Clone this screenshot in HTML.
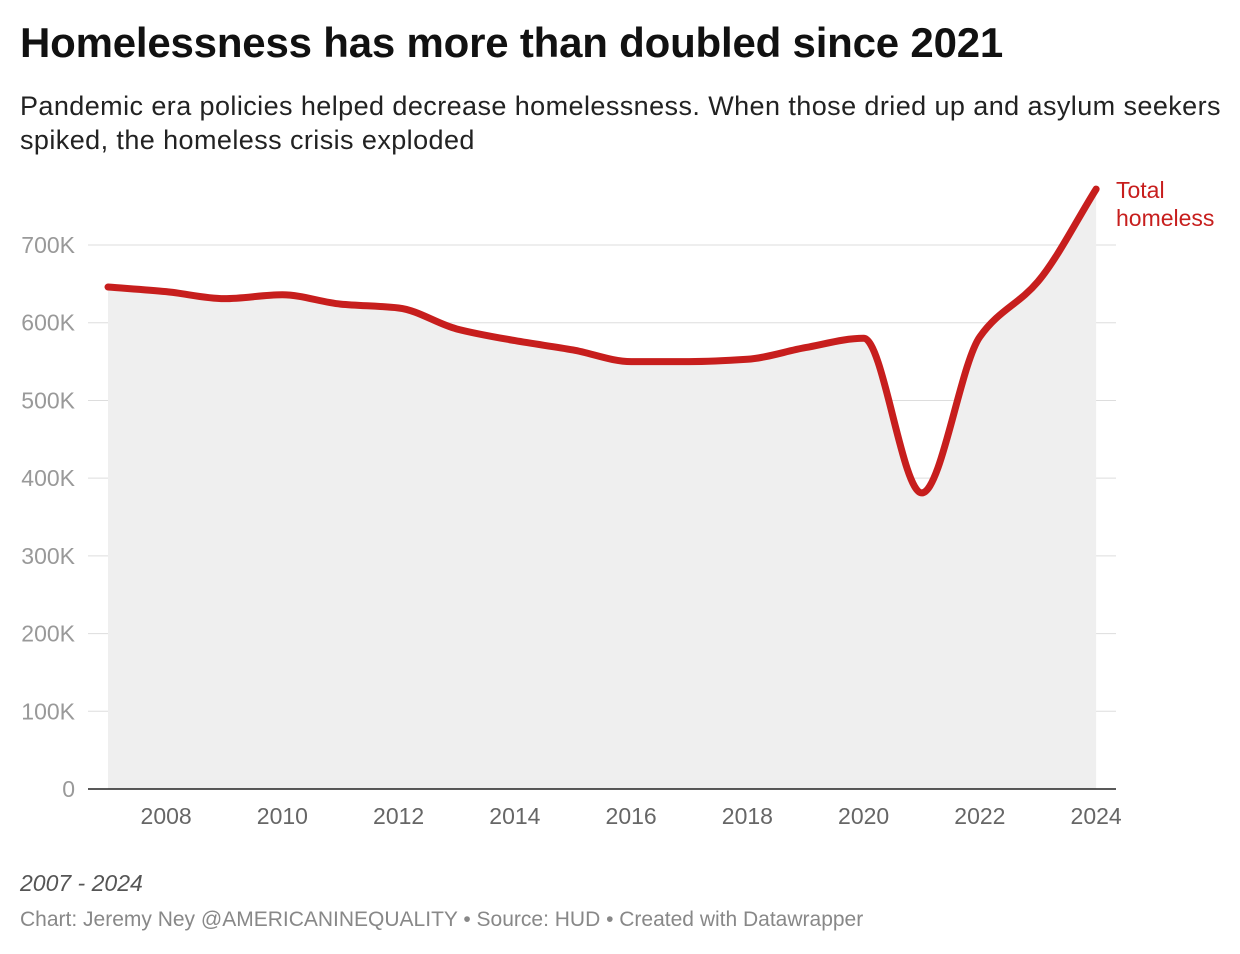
<!DOCTYPE html>
<html><head><meta charset="utf-8"><style>
body{margin:0;background:#fff;font-family:"Liberation Sans",sans-serif;}
#wrap{position:relative;width:1240px;height:954px;overflow:hidden}
.t{position:absolute;left:20px;white-space:nowrap}
</style></head><body>
<div id="wrap">
<div class="t" style="top:19px;font-size:42px;font-weight:bold;color:#111;letter-spacing:-0.2px">Homelessness has more than doubled since 2021</div>
<div class="t" style="top:89px;font-size:27px;line-height:34px;color:#222;white-space:normal;width:1218px;letter-spacing:0.42px">Pandemic era policies helped decrease homelessness. When those dried up and asylum seekers spiked, the homeless crisis exploded</div>
<svg id="chart" width="1240" height="954" style="position:absolute;left:0;top:0"></svg>
<div class="t" style="top:870px;font-size:23px;font-style:italic;color:#555">2007 - 2024</div>
<div class="t" style="top:908px;font-size:21px;color:#888;letter-spacing:0px">Chart: Jeremy Ney @AMERICANINEQUALITY • Source: HUD • Created with Datawrapper</div>
</div>
<script>
const years=[2007,2008,2009,2010,2011,2012,2013,2014,2015,2016,2017,2018,2019,2020,2021,2022,2023,2024];
const homeless=[646,640,631,636,624,619,592,577,565,550,550,553,568,580,381,582,653,772];
const yTicks=[0,100,200,300,400,500,600,700];
const yTickLabels=["0","100K","200K","300K","400K","500K","600K","700K"];
const xTicks=[2008,2010,2012,2014,2016,2018,2020,2022,2024];
const NS="http://www.w3.org/2000/svg";
const svg=document.getElementById('chart');
const x=v=>108+(v-2007)*58.125;
const y=v=>789-v*0.7771;
function mk(t,a){const e=document.createElementNS(NS,t);for(const k in a)e.setAttribute(k,a[k]);svg.appendChild(e);return e;}
yTicks.forEach((v,i)=>{
 if(v>0){const g=mk('line',{x1:88,x2:1116,y1:y(v),y2:y(v),stroke:'#ddd','stroke-width':1});
 
 }
 const t=mk('text',{x:75,y:y(v)+8,'text-anchor':'end','font-size':23,fill:'#999','font-family':'Liberation Sans, sans-serif'});
 t.textContent=yTickLabels[i];
 
 
});
xTicks.forEach(v=>{
 const t=mk('text',{x:x(v),y:824,'text-anchor':'middle','font-size':23,fill:'#666','font-family':'Liberation Sans, sans-serif'});
 t.textContent=v;
 
 
});
const px=years.map(x),py=homeless.map(y),n=px.length;
const d=[],m=[];
for(let i=0;i<n-1;i++)d.push((py[i+1]-py[i])/(px[i+1]-px[i]));
m[0]=d[0];m[n-1]=d[n-2];
for(let i=1;i<n-1;i++){m[i]=0;
 const w1=2*(px[i+1]-px[i])+(px[i]-px[i-1]),w2=(px[i+1]-px[i])+2*(px[i]-px[i-1]);
 if(d[i-1]*d[i]>0)m[i]=(w1+w2)/(w1/d[i-1]+w2/d[i]);}
let path='M'+px[0]+','+py[0];
for(let i=0;i<n-1;i++){const h=(px[i+1]-px[i])/3;
 path+=` C${px[i]+h},${py[i]+m[i]*h} ${px[i+1]-h},${py[i+1]-m[i+1]*h} ${px[i+1]},${py[i+1]}`;}
const area=mk('path',{d:path+` L${px[n-1]},789 L${px[0]},789 Z`,fill:'#efefef'});


const base=mk('line',{x1:88,x2:1116,y1:789,y2:789,stroke:'#222','stroke-width':1.5});


const line=mk('path',{d:path,fill:'none',stroke:'#c71e1d','stroke-width':7,'stroke-linecap':'round','stroke-linejoin':'round'});


['Total','homeless'].forEach((s,i)=>{
 const t=mk('text',{x:1116,y:198+i*28,'font-size':23,fill:'#c71e1d','font-family':'Liberation Sans, sans-serif'});
 t.textContent=s;
 
 
});
</script>
</body></html>
